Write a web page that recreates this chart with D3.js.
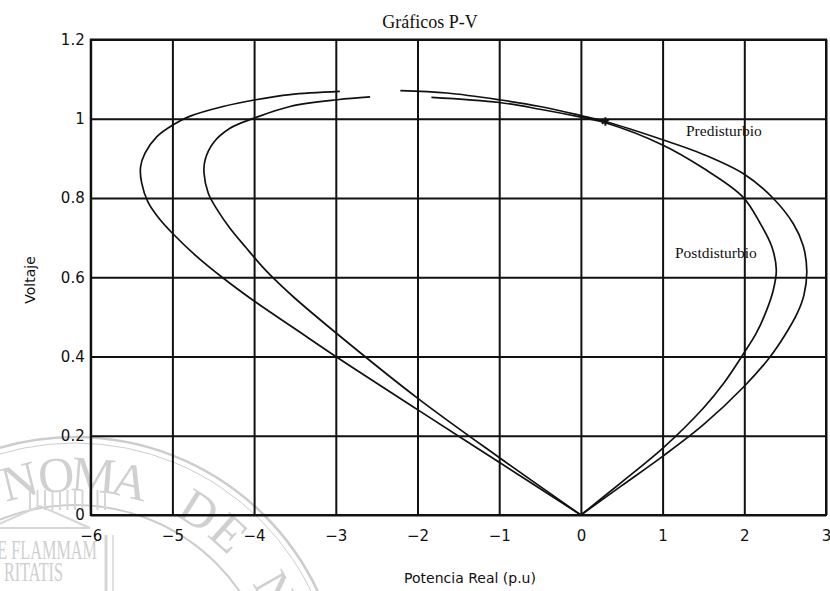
<!DOCTYPE html>
<html>
<head>
<meta charset="utf-8">
<script src="https://cdn.jsdelivr.net/npm/d3@7"></script>
<style>
  html, body { margin: 0; padding: 0; background: #fff; }
  svg { display: block; }
</style>
</head>
<body>
<svg id="chart" width="830" height="591"></svg>
<script>
// ---------------- data ----------------
const chartTitle = "Gráficos P-V";
const xLabel = "Potencia Real (p.u)";
const yLabel = "Voltaje";
const xTicks = [-6, -5, -4, -3, -2, -1, 0, 1, 2, 3];
const yTicks = [0, 0.2, 0.4, 0.6, 0.8, 1, 1.2];
const seriesNames = ["Predisturbio", "Postdisturbio"];

// Predisturbio (outer curve), [P, V]
const preLeft = [[-2.95,1.069],[-3.56,1.061],[-3.98,1.048],[-4.38,1.031],[-4.79,1.006],[-4.99,0.985],
  [-5.19,0.955],[-5.335,0.913],[-5.39,0.878],[-5.376,0.838],[-5.3,0.79],[-5.17,0.75],[-5.0,0.711],
  [-4.70,0.652],[-4.38,0.598],[-4.0,0.54],[-3.5,0.47],[-3.0,0.4],[-2.0,0.266],[-1.0,0.133],[0,0]];
const preRight = [[-2.21,1.071],[-1.64,1.065],[-1.0,1.048],[-0.5,1.031],[0,1.008],[0.3,0.993],[1.0,0.947],
  [1.5,0.91],[2.0,0.86],[2.35,0.8],[2.6,0.735],[2.72,0.68],[2.765,0.615],[2.73,0.555],[2.65,0.51],
  [2.5,0.455],[2.3,0.395],[2.0,0.325],[1.5,0.228],[1.0,0.148],[0.5,0.074],[0,0]];

// Postdisturbio (inner curve), [P, V]
const postLeft = [[-2.58,1.055],[-2.98,1.048],[-3.56,1.031],[-3.98,1.003],[-4.295,0.976],[-4.5,0.939],
  [-4.6,0.896],[-4.613,0.863],[-4.561,0.812],[-4.45,0.77],[-4.3,0.725],[-4.1,0.675],[-3.9,0.627],
  [-3.7,0.585],[-3.5,0.547],[-3.0,0.46],[-2.0,0.295],[-1.0,0.145],[0,0]];
const postRight = [[-1.83,1.054],[-1.0,1.041],[-0.5,1.024],[0,1.004],[0.3,0.99],[1.0,0.934],[1.5,0.875],
  [1.976,0.804],[2.192,0.737],[2.335,0.678],[2.392,0.619],[2.355,0.568],[2.27,0.515],[2.15,0.46],
  [2.0,0.41],[1.75,0.333],[1.5,0.27],[1.0,0.168],[0.5,0.083],[0,0]];

const markPoint = [0.3, 0.993];

// ---------------- layout ----------------
const svg = d3.select("#chart");
const pLeft = 90.7, pRight = 826, pTop = 39.5, pBottom = 515;
const x = d3.scaleLinear().domain([-6, 3]).range([pLeft, pRight]);
const y = d3.scaleLinear().domain([0, 1.2]).range([pBottom, pTop]);

// ---------------- faint watermark (seal) ----------------
const wm = svg.append("g").attr("fill", "none").attr("stroke", "#cdcdcd");
const cx = 75, cy = 705;
wm.append("circle").attr("cx", cx).attr("cy", cy).attr("r", 268).attr("stroke-width", 2.5);
wm.append("circle").attr("cx", cx).attr("cy", cy).attr("r", 262).attr("stroke-width", 1);
wm.append("circle").attr("cx", cx).attr("cy", cy).attr("r", 200).attr("stroke-width", 2);
const sealLetters = "NOMA DE N".split("");
sealLetters.forEach((ch, i) => {
  const a = (-104 + i * 9.3) * Math.PI / 180;
  const r = 214;
  wm.append("text")
    .attr("transform", `translate(${cx + r * Math.cos(a)},${cy + r * Math.sin(a)}) rotate(${a * 180 / Math.PI + 90})`)
    .attr("text-anchor", "middle")
    .attr("fill", "#d0d0d0").attr("stroke", "none")
    .attr("font-family", "Liberation Serif, serif")
    .attr("font-size", 50)
    .text(ch);
});
// temple columns
const colG = wm.append("g").attr("stroke", "#d6d6d6").attr("stroke-width", 2);
d3.range(0, 11).forEach(i => {
  colG.append("line").attr("x1", 30 + i * 7.5).attr("x2", 30 + i * 7.5).attr("y1", 490).attr("y2", 510);
});
wm.append("path").attr("d", "M -10 528 L 40 506 L 90 528 Z").attr("stroke", "#d6d6d6").attr("stroke-width", 2);
wm.append("line").attr("x1", 106).attr("x2", 106).attr("y1", 535).attr("y2", 591).attr("stroke-width", 3).attr("stroke", "#d6d6d6");
wm.append("line").attr("x1", 113).attr("x2", 113).attr("y1", 535).attr("y2", 591).attr("stroke-width", 1.5).attr("stroke", "#d6d6d6");
wm.append("text").attr("x", 97).attr("y", 559).attr("text-anchor", "end")
  .attr("fill", "#cfcfcf").attr("stroke", "none").attr("font-family", "Liberation Serif, serif")
  .attr("font-size", 28).attr("transform", "translate(97,559) scale(0.58,1) translate(-97,-559)")
  .text("E FLAMMAM");
wm.append("text").attr("x", 63).attr("y", 581).attr("text-anchor", "end")
  .attr("fill", "#cfcfcf").attr("stroke", "none").attr("font-family", "Liberation Serif, serif")
  .attr("font-size", 28).attr("transform", "translate(63,581) scale(0.58,1) translate(-63,-581)")
  .text("RITATIS");

// ---------------- grid / axes ----------------
const xAxis = d3.axisBottom(x).tickValues(xTicks).tickSize(-(pBottom - pTop)).tickPadding(15)
  .tickFormat(d3.format(""));
const yAxis = d3.axisLeft(y).tickValues(yTicks).tickSize(-(pRight - pLeft)).tickPadding(6)
  .tickFormat(d3.format(""));

const gx = svg.append("g").attr("transform", `translate(0,${pBottom})`).call(xAxis);
const gy = svg.append("g").attr("transform", `translate(${pLeft},0)`).call(yAxis);
[gx, gy].forEach(g => {
  g.select(".domain").remove();
  g.selectAll(".tick line").attr("stroke", "#111").attr("stroke-width", 2);
  g.selectAll(".tick text").attr("fill", "#111")
    .attr("font-family", "DejaVu Sans, sans-serif").attr("font-size", 15);
});

svg.append("rect").attr("x", pLeft).attr("y", pTop).attr("width", pRight - pLeft).attr("height", pBottom - pTop)
  .attr("fill", "none").attr("stroke", "#111").attr("stroke-width", 2);

// ---------------- curves ----------------
const line = d3.line().x(d => x(d[0])).y(d => y(d[1])).curve(d3.curveCatmullRom.alpha(0.5));
const curves = svg.append("g").attr("fill", "none").attr("stroke", "#111").attr("stroke-width", 1.7)
  .attr("stroke-linejoin", "round");
[preLeft, preRight, postLeft, postRight].forEach(c => curves.append("path").attr("d", line(c)));

svg.append("path")
  .attr("transform", `translate(${x(markPoint[0])},${y(markPoint[1])})`)
  .attr("d", d3.symbol(d3.symbolAsterisk, 50)())
  .attr("fill", "none").attr("stroke", "#111").attr("stroke-width", 2);

// ---------------- texts ----------------
svg.append("text").attr("x", 430).attr("y", 28).attr("text-anchor", "middle")
  .attr("font-family", "Liberation Serif, serif").attr("font-size", 18).attr("fill", "#111")
  .text(chartTitle);

svg.append("text").attr("x", 686).attr("y", 136)
  .attr("font-family", "Liberation Serif, serif").attr("font-size", 15.5).attr("fill", "#111")
  .text(seriesNames[0]);
svg.append("text").attr("x", 675).attr("y", 258)
  .attr("font-family", "Liberation Serif, serif").attr("font-size", 15.5).attr("fill", "#111")
  .text(seriesNames[1]);

svg.append("text").attr("x", 470).attr("y", 583).attr("text-anchor", "middle")
  .attr("font-family", "DejaVu Sans, sans-serif").attr("font-size", 14).attr("fill", "#111")
  .text(xLabel);
svg.append("text").attr("transform", "translate(35,280) rotate(-90)").attr("text-anchor", "middle")
  .attr("font-family", "DejaVu Sans, sans-serif").attr("font-size", 14).attr("fill", "#111")
  .text(yLabel);
</script>
</body>
</html>
